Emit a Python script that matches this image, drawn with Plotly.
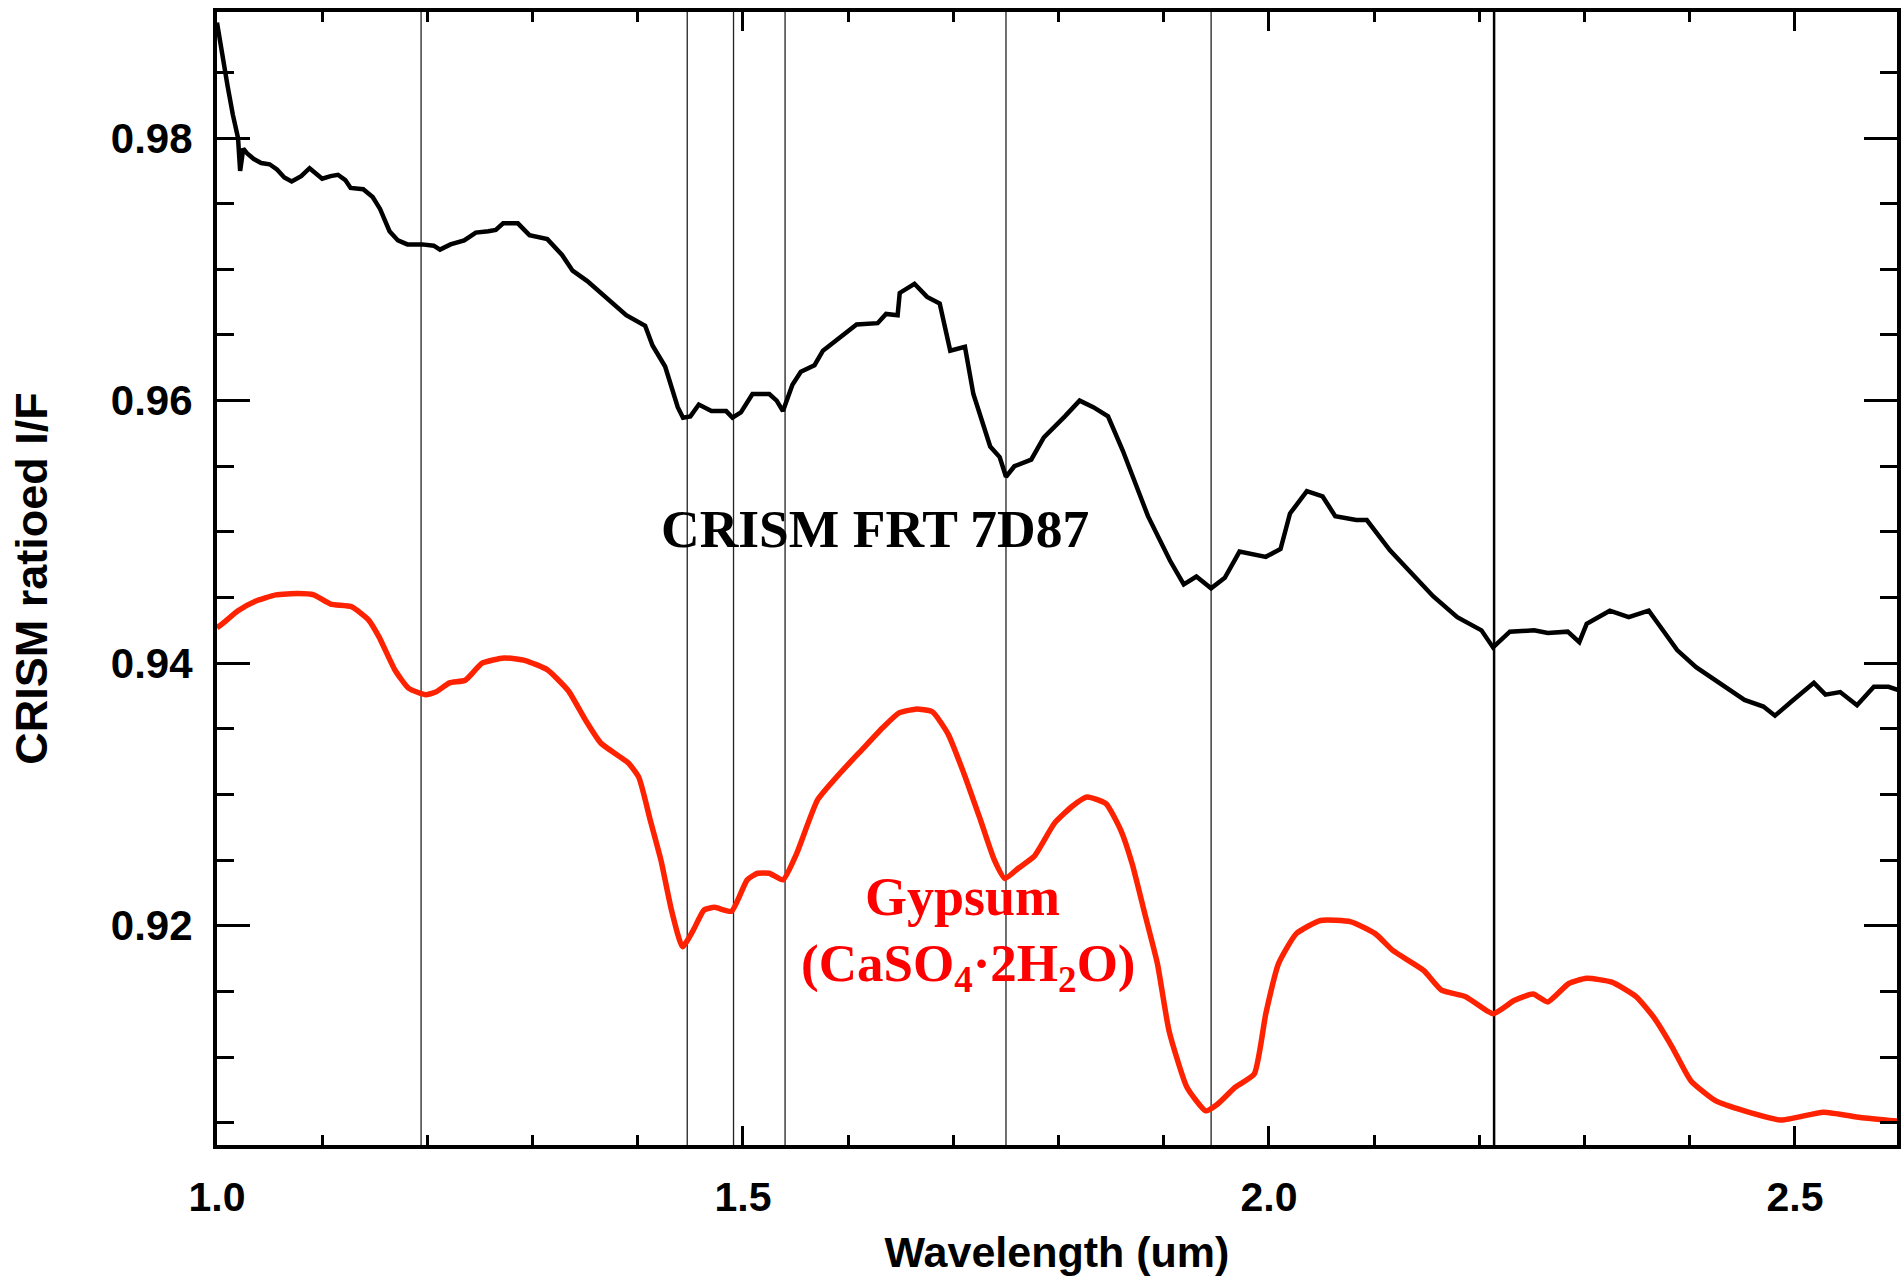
import plotly.graph_objects as go

# ---------------- data ----------------
crism_wavelength = [1.000, 1.005, 1.010, 1.015, 1.020, 1.022, 1.025, 1.029, 1.035, 1.042, 1.050, 1.057,
                    1.064, 1.071, 1.080, 1.088, 1.094, 1.100, 1.108, 1.115, 1.122, 1.127, 1.139, 1.148,
                    1.155, 1.164, 1.172, 1.181, 1.195, 1.206, 1.212, 1.222, 1.235, 1.246, 1.258, 1.265,
                    1.272, 1.286, 1.297, 1.314, 1.328, 1.338, 1.352, 1.370, 1.389, 1.407, 1.414, 1.426,
                    1.438, 1.443, 1.450, 1.458, 1.470, 1.484, 1.490, 1.498, 1.509, 1.525, 1.532, 1.538,
                    1.547, 1.555, 1.568, 1.576, 1.596, 1.608, 1.628, 1.636, 1.647, 1.649, 1.663, 1.675,
                    1.687, 1.697, 1.711, 1.719, 1.735, 1.744, 1.750, 1.758, 1.774, 1.786, 1.806, 1.820,
                    1.833, 1.847, 1.861, 1.873, 1.885, 1.906, 1.919, 1.931, 1.945, 1.958, 1.972, 1.997,
                    2.011, 2.020, 2.036, 2.051, 2.063, 2.083, 2.093, 2.115, 2.138, 2.156, 2.179, 2.202,
                    2.213, 2.229, 2.252, 2.265, 2.284, 2.295, 2.302, 2.324, 2.342, 2.361, 2.370, 2.388,
                    2.406, 2.429, 2.452, 2.470, 2.481, 2.497, 2.518, 2.529, 2.543, 2.559, 2.575, 2.589,
                    2.600]
crism_if = [0.9888, 0.9862, 0.9840, 0.9818, 0.9800, 0.9775, 0.9792, 0.9788, 0.9784, 0.9781, 0.9780, 0.9776,
            0.9770, 0.9767, 0.9771, 0.9777, 0.9773, 0.9769, 0.9771, 0.9772, 0.9768, 0.9762, 0.9761, 0.9755,
            0.9746, 0.9729, 0.9722, 0.9719, 0.9719, 0.9718, 0.9715, 0.9719, 0.9722, 0.9728, 0.9729, 0.9730,
            0.9735, 0.9735, 0.9726, 0.9723, 0.9711, 0.9699, 0.9691, 0.9678, 0.9665, 0.9657, 0.9642, 0.9626,
            0.9595, 0.9587, 0.9588, 0.9597, 0.9592, 0.9592, 0.9587, 0.9591, 0.9605, 0.9605, 0.9600, 0.9592,
            0.9612, 0.9622, 0.9627, 0.9638, 0.9651, 0.9658, 0.9659, 0.9666, 0.9665, 0.9682, 0.9689, 0.9679,
            0.9674, 0.9638, 0.9641, 0.9605, 0.9565, 0.9557, 0.9542, 0.9550, 0.9555, 0.9572, 0.9588, 0.9600,
            0.9595, 0.9588, 0.9562, 0.9537, 0.9512, 0.9478, 0.9460, 0.9466, 0.9457, 0.9465, 0.9485, 0.9481,
            0.9487, 0.9514, 0.9531, 0.9527, 0.9512, 0.9509, 0.9509, 0.9486, 0.9466, 0.9451, 0.9435, 0.9425,
            0.9412, 0.9424, 0.9425, 0.9423, 0.9424, 0.9416, 0.9430, 0.9440, 0.9435, 0.9440, 0.9430, 0.9410,
            0.9397, 0.9385, 0.9372, 0.9367, 0.9360, 0.9371, 0.9385, 0.9376, 0.9378, 0.9368, 0.9382, 0.9382,
            0.9379]

gypsum_wavelength = [1.000, 1.005, 1.020, 1.036, 1.056, 1.077, 1.092, 1.108, 1.128, 1.144, 1.154, 1.169,
                     1.182, 1.198, 1.208, 1.221, 1.236, 1.252, 1.273, 1.293, 1.314, 1.334, 1.350, 1.365,
                     1.391, 1.401, 1.412, 1.422, 1.432, 1.4425, 1.453, 1.463, 1.473, 1.489, 1.504, 1.514,
                     1.525, 1.538, 1.551, 1.571, 1.592, 1.613, 1.633, 1.648, 1.664, 1.680, 1.695, 1.710,
                     1.726, 1.739, 1.749, 1.762, 1.777, 1.796, 1.813, 1.827, 1.845, 1.859, 1.870, 1.882,
                     1.894, 1.905, 1.922, 1.940, 1.951, 1.968, 1.986, 1.997, 2.009, 2.026, 2.049, 2.078,
                     2.101, 2.118, 2.147, 2.164, 2.187, 2.213, 2.233, 2.251, 2.265, 2.285, 2.302, 2.326,
                     2.349, 2.366, 2.383, 2.401, 2.424, 2.452, 2.487, 2.527, 2.562, 2.600]
gypsum_if = [0.9427, 0.9430, 0.9440, 0.9447, 0.9452, 0.9453, 0.9452, 0.9445, 0.9443, 0.9433, 0.9420, 0.9395,
             0.9381, 0.9376, 0.9378, 0.9385, 0.9387, 0.9400, 0.9404, 0.9402, 0.9395, 0.9379, 0.9357, 0.9339,
             0.9324, 0.9313, 0.9280, 0.9250, 0.9212, 0.9184, 0.9197, 0.9212, 0.9214, 0.9211, 0.9235, 0.9240,
             0.9240, 0.9235, 0.9255, 0.9296, 0.9316, 0.9334, 0.9351, 0.9362, 0.9365, 0.9363, 0.9346, 0.9316,
             0.9280, 0.9250, 0.9236, 0.9244, 0.9253, 0.9278, 0.9291, 0.9298, 0.9293, 0.9273, 0.9247, 0.9209,
             0.9171, 0.9120, 0.9077, 0.9059, 0.9064, 0.9077, 0.9087, 0.9133, 0.9171, 0.9194, 0.9204, 0.9203,
             0.9194, 0.9181, 0.9166, 0.9151, 0.9146, 0.9133, 0.9143, 0.9148, 0.9142, 0.9156, 0.9160, 0.9157,
             0.9146, 0.9130, 0.9108, 0.9082, 0.9067, 0.9059, 0.9052, 0.9058, 0.9054, 0.9051]

band_lines = [1.194, 1.447, 1.491, 1.540, 1.750, 1.945]
strong_band_line = [2.214]

x_tick_vals = [1.0, 1.5, 2.0, 2.5]
x_tick_text = ["1.0", "1.5", "2.0", "2.5"]
y_tick_vals = [0.92, 0.94, 0.96, 0.98]
y_tick_text = ["0.92", "0.94", "0.96", "0.98"]

# ---------------- figure ----------------
fig = go.Figure()

fig.add_trace(go.Scatter(x=crism_wavelength, y=crism_if, mode="lines",
                         line=dict(color="black", width=4.5), showlegend=False))
fig.add_trace(go.Scatter(x=gypsum_wavelength, y=gypsum_if, mode="lines",
                         line=dict(color="#ff2200", width=5.5, shape="spline", smoothing=0.5),
                         showlegend=False))

for xv in band_lines:
    fig.add_shape(type="line", xref="x", yref="paper", x0=xv, x1=xv, y0=0, y1=1,
                  line=dict(color="#222222", width=1.3), layer="below")
for xv in strong_band_line:
    fig.add_shape(type="line", xref="x", yref="paper", x0=xv, x1=xv, y0=0, y1=1,
                  line=dict(color="black", width=2.5), layer="below")

sans = "Liberation Sans, Arial, sans-serif"
serif = "Liberation Serif, Times New Roman, serif"

fig.add_annotation(text="CRISM FRT 7D87", xref="paper", yref="paper", x=0.3915, y=0.5440,
                   showarrow=False, xanchor="center", yanchor="middle",
                   font=dict(family=serif, size=53.5, color="black", weight="bold"))
fig.add_annotation(text="Gypsum", xref="paper", yref="paper", x=0.444, y=0.219,
                   showarrow=False, xanchor="center", yanchor="middle",
                   font=dict(family=serif, size=54, color="#ff0000", weight="bold"))
fig.add_annotation(text="(CaSO<sub>4</sub>·2H<sub>2</sub>O)", xref="paper", yref="paper",
                   x=0.4475, y=0.1575, showarrow=False, xanchor="center", yanchor="middle",
                   font=dict(family=serif, size=53, color="#ff0000", weight="bold"))

axis_common = dict(showline=True, linecolor="black", linewidth=4, mirror="ticks",
                   ticks="inside", tickcolor="black", showgrid=False, zeroline=False,
                   automargin=False)

fig.update_xaxes(range=[1.0, 2.597], tickvals=x_tick_vals, ticktext=x_tick_text,
                 ticklen=19, tickwidth=3,
                 minor=dict(dtick=0.1, tick0=1.0, ticks="inside", ticklen=10, tickwidth=3,
                            tickcolor="black", showgrid=False),
                 tickfont=dict(family=sans, size=41, color="black", weight="bold"),
                 ticklabelstandoff=13,
                 title=dict(text="Wavelength (um)", standoff=20,
                            font=dict(family=sans, size=43, color="black", weight="bold")),
                 **axis_common)
fig.update_yaxes(range=[0.9033, 0.9896], tickvals=y_tick_vals, ticktext=y_tick_text,
                 ticklen=33, tickwidth=3,
                 minor=dict(dtick=0.005, tick0=0.9, ticks="inside", ticklen=17, tickwidth=3,
                            tickcolor="black", showgrid=False),
                 tickfont=dict(family=sans, size=42, color="black", weight="bold"),
                 ticklabelstandoff=12,
                 title=dict(text="CRISM ratioed I/F", standoff=50,
                            font=dict(family=sans, size=45, color="black", weight="bold")),
                 **axis_common)

fig.update_layout(width=1901, height=1276,
                  margin=dict(l=217, r=4, t=12, b=131, pad=0),
                  paper_bgcolor="white", plot_bgcolor="white")

fig.write_html("out.html", config={"displayModeBar": False},
               post_script="document.body.style.margin='0';document.body.style.overflow='hidden';")
